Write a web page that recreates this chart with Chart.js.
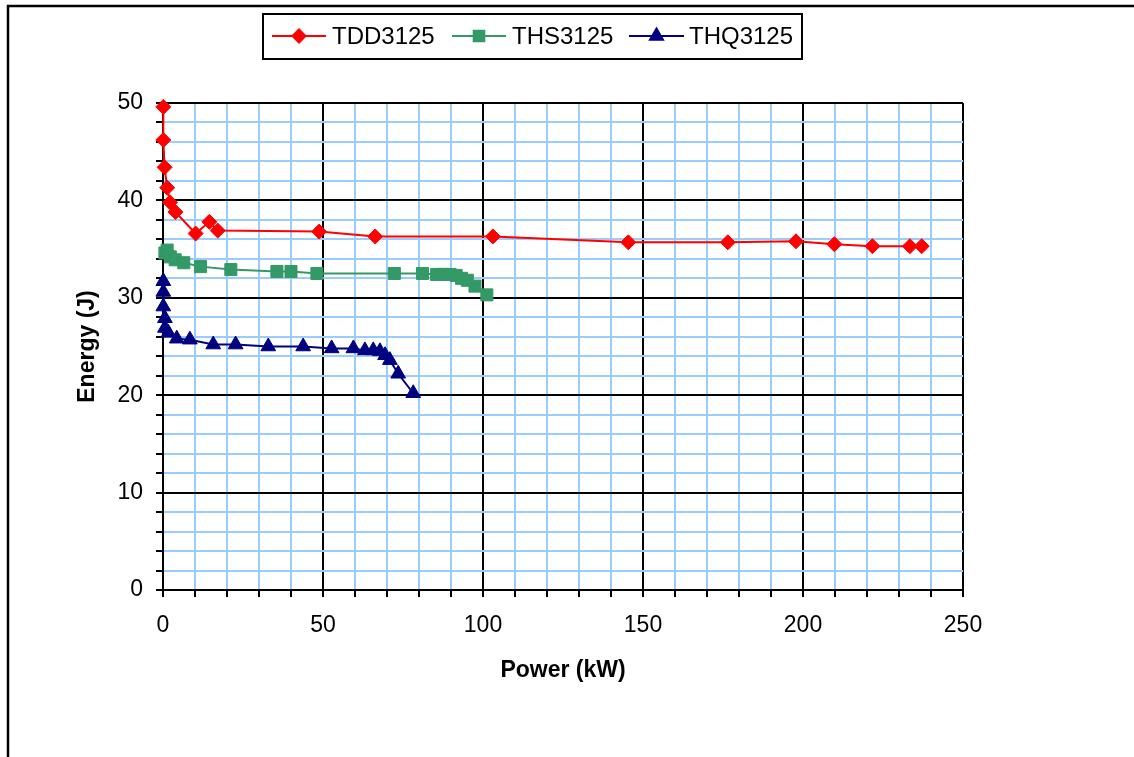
<!DOCTYPE html>
<html>
<head>
<meta charset="utf-8">
<script src="https://cdn.jsdelivr.net/npm/chart.js@4.4.1/dist/chart.umd.min.js"></script>
<style>
  html, body { margin: 0; padding: 0; background: #fff; }
  canvas { display: block; }
</style>
</head>
<body>
<canvas id="energyChart" width="1134" height="757"></canvas>
<script>
// Series values
const seriesNames = ["TDD3125", "THS3125", "THQ3125"];

const tddPower  = [0.1, 0.1, 0.5, 1.3, 2.2, 3.9, 10.2, 14.5, 17.1, 48.8, 66.3, 103.1, 145.4, 176.5, 197.8, 209.8, 221.7, 233.4, 237.1];
const tddEnergy = [49.6, 46.2, 43.4, 41.3, 39.8, 38.8, 36.6, 37.8, 36.9, 36.8, 36.3, 36.3, 35.7, 35.7, 35.8, 35.5, 35.3, 35.3, 35.3];

const thsPower  = [0.6, 1.3, 2.3, 3.8, 6.5, 11.7, 21.2, 35.6, 40.0, 48.1, 72.3, 81.1, 85.5, 87.6, 89.7, 91.6, 93.3, 95.1, 97.5, 101.2];
const thsEnergy = [34.6, 34.9, 34.2, 33.9, 33.6, 33.2, 32.9, 32.7, 32.7, 32.5, 32.5, 32.5, 32.4, 32.4, 32.4, 32.3, 32.0, 31.8, 31.2, 30.3];

const thqPower  = [0.1, 0.1, 0.1, 0.6, 0.6, 1.7, 4.3, 8.4, 15.7, 22.7, 32.9, 43.8, 52.7, 59.5, 63.1, 65.7, 67.8, 69.4, 70.9, 73.5, 78.2];
const thqEnergy = [31.7, 30.6, 29.1, 27.9, 26.9, 26.4, 25.8, 25.7, 25.2, 25.2, 25.0, 25.0, 24.8, 24.8, 24.6, 24.6, 24.5, 24.1, 23.6, 22.2, 20.2];

// Axis ticks
const xMin = 0, xMax = 250, xStep = 10, xLabelEvery = 50;
const yMin = 0, yMax = 50, yStep = 2, yLabelEvery = 10;

const FONT = "'Liberation Sans', Arial, sans-serif";

function toPoints(xs, ys) {
    return xs.map((x, i) => ({ x: x, y: ys[i] }));
}

const datasets = [
    {
        label: seriesNames[0],
        data: toPoints(tddPower, tddEnergy),
        borderColor: "#ff0000",
        backgroundColor: "#ff0000",
        pointStyle: "rectRot",
        pointRadius: 7.5,
    },
    {
        label: seriesNames[1],
        data: toPoints(thsPower, thsEnergy),
        borderColor: "#339966",
        backgroundColor: "#339966",
        pointStyle: "rect",
        pointRadius: 8.5,
    },
    {
        label: seriesNames[2],
        data: toPoints(thqPower, thqEnergy),
        borderColor: "#000080",
        backgroundColor: "#000080",
        pointStyle: "triangle",
        pointRadius: 8.5,
    },
].map(d => Object.assign(d, {
    showLine: true,
    clip: false,
    borderWidth: 2,
    pointBorderWidth: 1,
    pointHoverRadius: d.pointRadius,
    tension: 0,
}));

// Outer frame (top and left edges only are visible in the reference)
const framePlugin = {
    id: "frame",
    beforeDraw(chart) {
        const ctx = chart.ctx;
        ctx.save();
        ctx.fillStyle = "#fff";
        ctx.fillRect(0, 0, chart.width, chart.height);
        ctx.strokeStyle = "#000";
        ctx.lineWidth = 2.5;
        ctx.beginPath();
        ctx.moveTo(chart.width, 6);
        ctx.lineTo(8, 6);
        ctx.lineTo(8, chart.height);
        ctx.stroke();
        ctx.restore();
    }
};

// Boxed legend with line + marker samples
const boxLegendPlugin = {
    id: "boxLegend",
    afterDraw(chart) {
        const ctx = chart.ctx;
        const box = { left: 263, top: 14, right: 802, bottom: 59 };
        const cy = 36;
        const entries = [
            { lineStart: 272, lineEnd: 326, textX: 332 },
            { lineStart: 452, lineEnd: 506, textX: 512 },
            { lineStart: 629, lineEnd: 684, textX: 689 },
        ];
        ctx.save();
        ctx.fillStyle = "#fff";
        ctx.fillRect(box.left, box.top, box.right - box.left, box.bottom - box.top);
        ctx.strokeStyle = "#000";
        ctx.lineWidth = 2;
        ctx.strokeRect(box.left, box.top, box.right - box.left, box.bottom - box.top);

        chart.data.datasets.forEach((ds, i) => {
            const e = entries[i];
            ctx.strokeStyle = ds.borderColor;
            ctx.lineWidth = 2;
            ctx.beginPath();
            ctx.moveTo(e.lineStart, cy);
            ctx.lineTo(e.lineEnd, cy);
            ctx.stroke();
            ctx.fillStyle = ds.backgroundColor;
            Chart.helpers.drawPoint(ctx, {
                pointStyle: ds.pointStyle,
                radius: ds.pointRadius - 1,
                borderWidth: 1,
                rotation: 0,
            }, (e.lineStart + e.lineEnd) / 2, cy);

            ctx.fillStyle = "#000";
            ctx.font = "24px " + FONT;
            ctx.textBaseline = "middle";
            ctx.textAlign = "left";
            ctx.fillText(ds.label, e.textX, cy + 1);
        });
        ctx.restore();
    }
};

const chart = new Chart(document.getElementById("energyChart"), {
    type: "scatter",
    data: { datasets: datasets },
    options: {
        responsive: false,
        animation: false,
        layout: {
            padding: { left: 0, top: 103, right: 171, bottom: 0 },
        },
        plugins: {
            legend: { display: false },
            tooltip: { enabled: false },
        },
        scales: {
            x: {
                type: "linear",
                min: xMin,
                max: xMax,
                afterFit: (scale) => { scale.height = 757 - 590; },
                border: { display: true, color: "#000", width: 2 },
                grid: {
                    color: (ctx) => (ctx.tick.value % xLabelEvery === 0 ? "#000" : "#99ccff"),
                    lineWidth: 2,
                    tickColor: "#000",
                    tickLength: 7,
                    tickWidth: 2,
                },
                ticks: {
                    stepSize: xStep,
                    autoSkip: false,
                    maxRotation: 0,
                    padding: 15,
                    color: "#000",
                    font: { family: FONT, size: 23 },
                    callback: (v) => (v % xLabelEvery === 0 ? String(v) : ""),
                },
                title: {
                    display: true,
                    text: "Power (kW)",
                    color: "#000",
                    font: { family: FONT, size: 23, weight: "bold" },
                    padding: { top: 0, bottom: 73 },
                },
            },
            y: {
                type: "linear",
                min: yMin,
                max: yMax,
                afterFit: (scale) => { scale.width = 163; },
                border: { display: true, color: "#000", width: 2 },
                grid: {
                    color: (ctx) => (ctx.tick.value % yLabelEvery === 0 ? "#000" : "#99ccff"),
                    lineWidth: 2,
                    tickColor: "#000",
                    tickLength: 7,
                    tickWidth: 2,
                },
                ticks: {
                    stepSize: yStep,
                    autoSkip: false,
                    padding: 13,
                    color: "#000",
                    font: { family: FONT, size: 23 },
                    callback: (v) => (v % yLabelEvery === 0 ? String(v) : ""),
                },
                title: {
                    display: true,
                    text: "Energy (J)",
                    color: "#000",
                    font: { family: FONT, size: 23, weight: "bold" },
                    padding: { top: 74, bottom: 0 },
                },
            },
        },
    },
    plugins: [framePlugin, boxLegendPlugin],
});
</script>
</body>
</html>
